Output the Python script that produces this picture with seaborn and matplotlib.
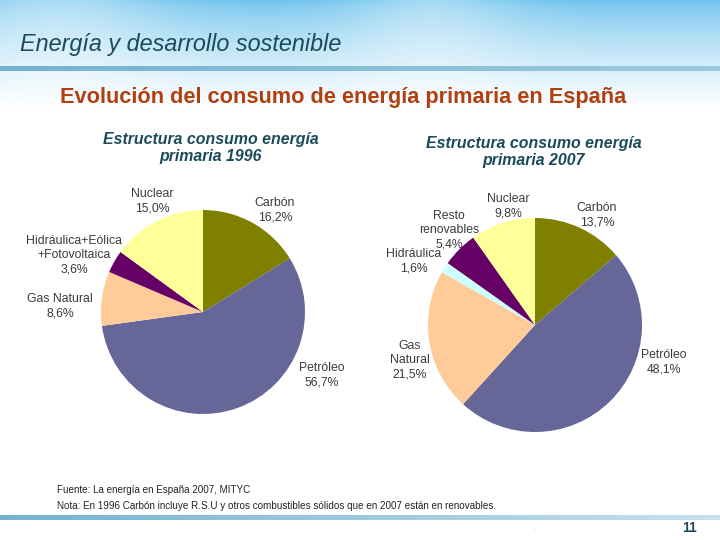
import numpy as np
import matplotlib
matplotlib.use("Agg")
import matplotlib.pyplot as plt
import seaborn as sns

sns.set_theme(style="white")
plt.rcParams['font.family'] = ['Liberation Sans', 'DejaVu Sans']

# datos 1996
labels_1996 = ["Carbón", "Petróleo", "Gas Natural", "Hidráulica+Eólica\n+Fotovoltaica", "Nuclear"]
values_1996 = [16.2, 56.7, 8.6, 3.6, 15.0]
colors_1996 = ["#808000", "#666699", "#FFCC99", "#660066", "#FFFF99"]

# datos 2007
labels_2007 = ["Carbón", "Petróleo", "Gas\nNatural", "Hidráulica", "Resto\nrenovables", "Nuclear"]
values_2007 = [13.7, 48.1, 21.5, 1.6, 5.4, 9.8]
colors_2007 = ["#808000", "#666699", "#FFCC99", "#CCFFFF", "#660066", "#FFFF99"]

# posiciones de etiquetas (pixeles de la figura)
pos_1996 = [(275, 210), (322, 375), (60, 306), (74, 255), (152, 201)]
pos_2007 = [(597, 215), (664, 362), (410, 360), (414, 261), (449, 230), (508, 206)]

W, H = 720, 540
fig = plt.figure(figsize=(7.2, 5.4), dpi=100)

# fondo cielo
bg = fig.add_axes([0, 0, 1, 1])
bg.set_axis_off()
yy = np.linspace(0, 1, 540)[:, None]
xx = np.linspace(0, 1, 720)[None, :]
top = np.array([0.42, 0.76, 0.93])
white = np.array([1.0, 1.0, 1.0])
t = np.clip(yy / 0.2, 0, 1) ** 0.7
t = t + (1 - t) * 0.4 * np.exp(-((xx - 0.08) / 0.15) ** 2) + (1 - t) * 0.35 * np.exp(-((xx - 0.6) / 0.12) ** 2)
t = np.clip(t, 0, 1)
img = top[None, None, :] * (1 - t[..., None]) + white[None, None, :] * t[..., None]
bg.imshow(img, extent=[0, W, H, 0], aspect='auto')

# lineas
grad = np.linspace(0, 1, 720)[None, :]
line_c = np.array([0.45, 0.70, 0.82])
band = line_c[None, None, :] * (1 - 0.3 * grad[..., None]) + white * 0.3 * grad[..., None]
bg.imshow(band, extent=[0, W, 71, 66], aspect='auto')
band2 = line_c[None, None, :] * (1 - grad[..., None] * 0.6) + white * grad[..., None] * 0.6
bg.imshow(band2, extent=[0, W, 520, 515], aspect='auto')
bg.set_xlim(0, W)
bg.set_ylim(H, 0)

bg.text(20, 44, "Energía y desarrollo sostenible", fontsize=16.8, style='italic',
        color="#1B4B5A", va='center', ha='left')
bg.text(343, 98, "Evolución del consumo de energía primaria en España", fontsize=15.7,
        weight='bold', color="#B0400F", va='center', ha='center')
bg.text(211, 148, "Estructura consumo energía\nprimaria 1996", fontsize=11.4, weight='bold',
        style='italic', color="#1B4B5A", va='center', ha='center', linespacing=1.15)
bg.text(534, 152, "Estructura consumo energía\nprimaria 2007", fontsize=11.4, weight='bold',
        style='italic', color="#1B4B5A", va='center', ha='center', linespacing=1.15)
bg.text(57, 490, "Fuente: La energía en España 2007, MITYC", fontsize=7.1, color="#222222",
        va='center', ha='left')
bg.text(57, 506, "Nota: En 1996 Carbón incluye R.S.U y otros combustibles sólidos que en 2007 están en renovables.",
        fontsize=7.1, color="#222222", va='center', ha='left')
bg.text(697, 528, "11", fontsize=10, weight='bold', color="#1B4B5A", va='center', ha='right')
bg.text(533, 530, ":", fontsize=6, color="#E0D060", va='center', ha='center')


def draw_pie(cx, cy, r, values, colors, labels, positions):
    ax = fig.add_axes([(cx - r) / W, (H - cy - r) / H, 2 * r / W, 2 * r / H])
    ax.pie(values, colors=colors, startangle=90, counterclock=False,
           wedgeprops=dict(linewidth=0), normalize=True)
    ax.set_xlim(-1, 1)
    ax.set_ylim(-1, 1)
    ax.set_axis_off()
    for lab, v, (px, py) in zip(labels, values, positions):
        txt = f"{lab}\n{v:.1f}%".replace(".", ",")
        bg.text(px, py, txt, fontsize=8.8, color="#3A3A3A", ha='center', va='center',
                linespacing=1.25)


draw_pie(203, 312, 102, values_1996, colors_1996, labels_1996, pos_1996)
draw_pie(535, 325, 107, values_2007, colors_2007, labels_2007, pos_2007)

fig.savefig("out.png", dpi=100)
